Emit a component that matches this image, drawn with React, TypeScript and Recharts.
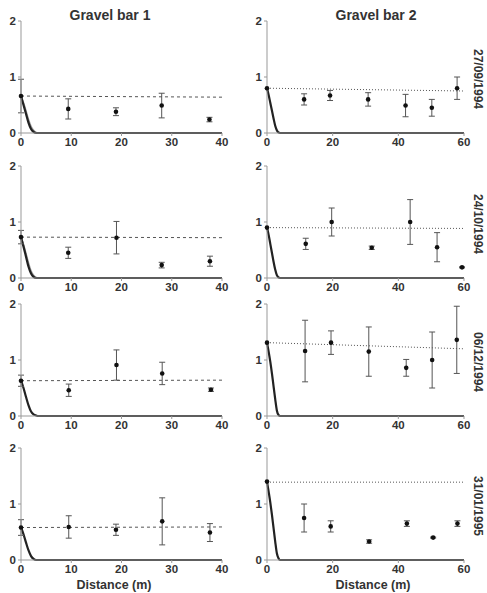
import { ComposedChart, Line, Scatter, ErrorBar, XAxis, YAxis } from "recharts";

const FONT = '"Liberation Sans", Arial, sans-serif';

const gb1Ticks = [0, 10, 20, 30, 40];
const gb2Ticks = [0, 20, 40, 60];
const yTicks = [0, 1, 2];
const dates = ["27/09/1994", "24/10/1994", "06/12/1994", "31/01/1995"];

// x positions used for the modelled decay curves
const curveX1 = [0, 0.5, 1, 1.5, 2, 2.5, 3, 3.5, 4, 40];
const curveX2 = [0, 0.5, 1, 1.5, 2, 2.5, 3, 3.5, 4, 60];

// 27/09/1994, gravel bar 1
const p1Dist = [0, 9.4, 18.9, 28, 37.5];
const p1Mean = [0.66, 0.43, 0.38, 0.49, 0.24];
const p1Err = [0.3, 0.18, 0.07, 0.22, 0.04];
const p1Trend = [0.66, 0.64];
const p1Curve = [0.66, 0.5, 0.34, 0.18, 0.07, 0.02, 0, 0, 0, 0];
const p1Curve2 = [0.66, 0.54, 0.4, 0.24, 0.12, 0.05, 0.01, 0, 0, 0];

// 27/09/1994, gravel bar 2
const p2Dist = [0, 11.3, 19.2, 30.8, 42.2, 50.2, 57.9];
const p2Mean = [0.8, 0.6, 0.67, 0.6, 0.49, 0.45, 0.8];
const p2Err = [0, 0.1, 0.09, 0.12, 0.2, 0.15, 0.2];
const p2Trend = [0.8, 0.75];
const p2Curve = [0.8, 0.68, 0.54, 0.4, 0.26, 0.13, 0.05, 0.01, 0, 0];

// 24/10/1994, gravel bar 1
const p3Dist = [0, 9.4, 19, 28, 37.6];
const p3Mean = [0.73, 0.45, 0.72, 0.23, 0.3];
const p3Err = [0.12, 0.1, 0.29, 0.05, 0.09];
const p3Trend = [0.73, 0.72];
const p3Curve = [0.73, 0.56, 0.38, 0.2, 0.08, 0.02, 0, 0, 0, 0];
const p3Curve2 = [0.73, 0.6, 0.44, 0.27, 0.13, 0.05, 0.01, 0, 0, 0];

// 24/10/1994, gravel bar 2
const p4Dist = [0, 11.8, 19.7, 31.9, 43.6, 51.8, 59.4];
const p4Mean = [0.9, 0.61, 1.0, 0.54, 1.0, 0.55, 0.19];
const p4Err = [0, 0.1, 0.25, 0.03, 0.4, 0.26, 0.01];
const p4Trend = [0.9, 0.885];
const p4Curve = [0.9, 0.77, 0.61, 0.45, 0.29, 0.15, 0.05, 0.01, 0, 0];

// 06/12/1994, gravel bar 1
const p5Dist = [0, 9.5, 19, 28.1, 37.8];
const p5Mean = [0.63, 0.46, 0.91, 0.76, 0.47];
const p5Err = [0.1, 0.11, 0.27, 0.2, 0.03];
const p5Trend = [0.63, 0.64];
const p5Curve = [0.63, 0.5, 0.34, 0.19, 0.08, 0.03, 0.01, 0, 0, 0];

// 06/12/1994, gravel bar 2
const p6Dist = [0, 11.6, 19.5, 31, 42.4, 50.3, 57.8];
const p6Mean = [1.31, 1.16, 1.31, 1.15, 0.86, 1.0, 1.36];
const p6Err = [0, 0.55, 0.21, 0.44, 0.15, 0.5, 0.6];
const p6Trend = [1.31, 1.2];
const p6Curve = [1.31, 1.15, 0.97, 0.76, 0.53, 0.3, 0.1, 0.02, 0, 0];

// 31/01/1995, gravel bar 1
const p7Dist = [0, 9.5, 18.9, 28.1, 37.6];
const p7Mean = [0.58, 0.59, 0.54, 0.69, 0.49];
const p7Err = [0.14, 0.2, 0.1, 0.42, 0.16];
const p7Trend = [0.58, 0.59];
const p7Curve = [0.58, 0.46, 0.31, 0.17, 0.07, 0.02, 0, 0, 0, 0];

// 31/01/1995, gravel bar 2
const p8Dist = [0, 11.3, 19.4, 31.1, 42.6, 50.6, 58];
const p8Mean = [1.4, 0.75, 0.6, 0.33, 0.65, 0.4, 0.65];
const p8Err = [0, 0.25, 0.1, 0.03, 0.05, 0.01, 0.05];
const p8Trend = [1.39, 1.39];
const p8Curve = [1.4, 1.22, 1.03, 0.81, 0.57, 0.33, 0.12, 0.03, 0, 0];

const zip = (xs: number[], ys: number[]) => xs.map((x, i) => ({ x, y: ys[i] }));

interface PanelProps {
  left: number;
  top: number;
  xMax: number;
  ticks: number[];
  dist: number[];
  mean: number[];
  err: number[];
  trend: number[];
  curve: number[];
  curve2?: number[];
  dotted?: boolean;
}

const tickStyle = { fontSize: 11.5, fontWeight: 700, fill: "#333", fontFamily: FONT };

function Panel({ left, top, xMax, ticks, dist, mean, err, trend, curve, curve2, dotted }: PanelProps) {
  const cx = xMax === 40 ? curveX1 : curveX2;
  const pts = dist.map((x, i) => ({ x, y: mean[i], e: err[i] }));
  const plotW = xMax === 40 ? 201 : 197;
  return (
    <div style={{ position: "absolute", left, top }}>
      <ComposedChart
        width={21 + plotW + 14}
        height={140}
        margin={{ top: 8, right: 14, left: 0, bottom: 0 }}
      >
        <XAxis
          type="number"
          dataKey="x"
          domain={[0, xMax]}
          ticks={ticks}
          tick={tickStyle}
          tickSize={3}
          tickLine={{ stroke: "#999" }}
          axisLine={{ stroke: "#999" }}
          height={20}
        />
        <YAxis
          type="number"
          dataKey="y"
          domain={[0, 2]}
          ticks={yTicks}
          tick={tickStyle}
          tickSize={3}
          tickLine={{ stroke: "#999" }}
          axisLine={{ stroke: "#999" }}
          width={21}
        />
        <Line
          data={zip([0, xMax], trend)}
          dataKey="y"
          stroke="#555"
          strokeWidth={1}
          strokeDasharray={dotted ? "1 2" : "3 3"}
          dot={false}
          isAnimationActive={false}
        />
        {curve2 && (
          <Line
            data={zip(cx, curve2)}
            dataKey="y"
            type="monotone"
            stroke="#999"
            strokeWidth={1.5}
            dot={false}
            isAnimationActive={false}
          />
        )}
        <Line
          data={zip(cx, curve)}
          dataKey="y"
          type="monotone"
          stroke="#222"
          strokeWidth={2.2}
          dot={false}
          isAnimationActive={false}
        />
        <Scatter
          data={pts}
          dataKey="y"
          isAnimationActive={false}
          shape={(p: any) => <circle cx={p.cx} cy={p.cy} r={2.3} fill="#111" />}
        >
          <ErrorBar dataKey="e" direction="y" width={3} stroke="#555" strokeWidth={1} />
        </Scatter>
      </ComposedChart>
    </div>
  );
}

const rowTops = [13, 158, 296, 440];

export default function App() {
  return (
    <div
      style={{
        position: "absolute",
        left: 0,
        top: 0,
        width: 487,
        height: 593,
        background: "#fff",
        fontFamily: FONT,
      }}
    >
      <Panel left={0} top={rowTops[0]} xMax={40} ticks={gb1Ticks} dist={p1Dist} mean={p1Mean} err={p1Err} trend={p1Trend} curve={p1Curve} curve2={p1Curve2} />
      <Panel left={246} top={rowTops[0]} xMax={60} ticks={gb2Ticks} dist={p2Dist} mean={p2Mean} err={p2Err} trend={p2Trend} curve={p2Curve} dotted />
      <Panel left={0} top={rowTops[1]} xMax={40} ticks={gb1Ticks} dist={p3Dist} mean={p3Mean} err={p3Err} trend={p3Trend} curve={p3Curve} curve2={p3Curve2} />
      <Panel left={246} top={rowTops[1]} xMax={60} ticks={gb2Ticks} dist={p4Dist} mean={p4Mean} err={p4Err} trend={p4Trend} curve={p4Curve} dotted />
      <Panel left={0} top={rowTops[2]} xMax={40} ticks={gb1Ticks} dist={p5Dist} mean={p5Mean} err={p5Err} trend={p5Trend} curve={p5Curve} />
      <Panel left={246} top={rowTops[2]} xMax={60} ticks={gb2Ticks} dist={p6Dist} mean={p6Mean} err={p6Err} trend={p6Trend} curve={p6Curve} dotted />
      <Panel left={0} top={rowTops[3]} xMax={40} ticks={gb1Ticks} dist={p7Dist} mean={p7Mean} err={p7Err} trend={p7Trend} curve={p7Curve} />
      <Panel left={246} top={rowTops[3]} xMax={60} ticks={gb2Ticks} dist={p8Dist} mean={p8Mean} err={p8Err} trend={p8Trend} curve={p8Curve} dotted />

      <svg
        width={487}
        height={593}
        style={{ position: "absolute", left: 0, top: 0, pointerEvents: "none" }}
        fontFamily={FONT}
        fontWeight={700}
        fill="#333"
      >
        <text x={110} y={20} fontSize={14} textAnchor="middle">Gravel bar 1</text>
        <text x={376} y={20} fontSize={14} textAnchor="middle">Gravel bar 2</text>
        {dates.map((d, i) => (
          <text
            key={d}
            transform={`translate(478, ${rowTops[i] + 66}) rotate(90)`}
            fontSize={12}
            textAnchor="middle"
            dominantBaseline="central"
          >
            {d}
          </text>
        ))}
        <text x={114} y={589} fontSize={12.5} textAnchor="middle">Distance (m)</text>
        <text x={373} y={589} fontSize={12.5} textAnchor="middle">Distance (m)</text>
      </svg>
    </div>
  );
}
